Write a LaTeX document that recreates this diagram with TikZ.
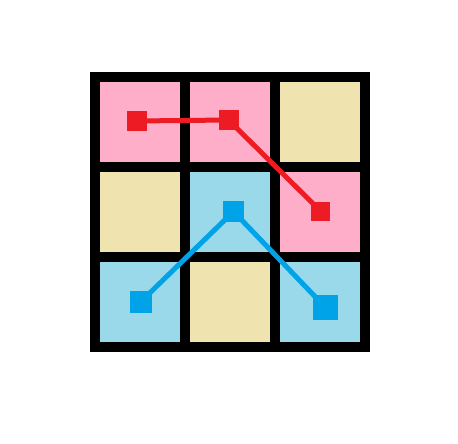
\documentclass[tikz,border=0pt]{standalone}
\usetikzlibrary{backgrounds}
\definecolor{paintred}{RGB}{237,28,36}
\definecolor{paintblue}{RGB}{0,162,232}
\definecolor{paintpink}{RGB}{255,174,201}
\definecolor{painttan}{RGB}{239,228,176}
\definecolor{paintsky}{RGB}{153,217,234}
\tikzset{
  board/.style={fill=black, inner sep=0pt, minimum size=280pt},
  cell/.style={inner sep=0pt, minimum size=80pt},
  redmark/.style={fill=paintred, inner sep=0pt, minimum size=#1},
  bluemark/.style={fill=paintblue, inner sep=0pt, minimum size=#1},
  redpath/.style={draw=paintred, line width=5pt},
  bluepath/.style={draw=paintblue, line width=5pt}
}

\begin{document}
\begin{tikzpicture}[x=1pt, y=-1pt]
\useasboundingbox (0,0) rectangle (458,444);
% markers
\node[redmark=20pt] (r1) at (136.5,121) {};
\node[redmark=20pt] (r2) at (228.5,120) {};
\node[redmark=19pt] (r3) at (320.5,211) {};
\node[bluemark=22pt] (b1) at (140.5,302) {};
\node[bluemark=21pt] (b2) at (233.5,211.5) {};
\node[bluemark=25pt] (b3) at (325.5,307.5) {};
\begin{scope}[on background layer]
\node[board] (grid) at (230,212) {};
\foreach \col/\row/\tint [count=\i] in {0/0/paintpink, 1/0/paintpink, 2/0/painttan,
    0/1/painttan, 1/1/paintsky, 2/1/paintpink,
    0/2/paintsky, 1/2/painttan, 2/2/paintsky}
  \node[cell, fill=\tint] (c\i) at (140+90*\col,122+90*\row) {};
% paths
\draw[redpath] (r1.center) -- (r2.center) -- (r3.center);
\draw[bluepath] (b1.center) -- (b2.center) -- (b3.center);
\end{scope}
\end{tikzpicture}
\end{document}
